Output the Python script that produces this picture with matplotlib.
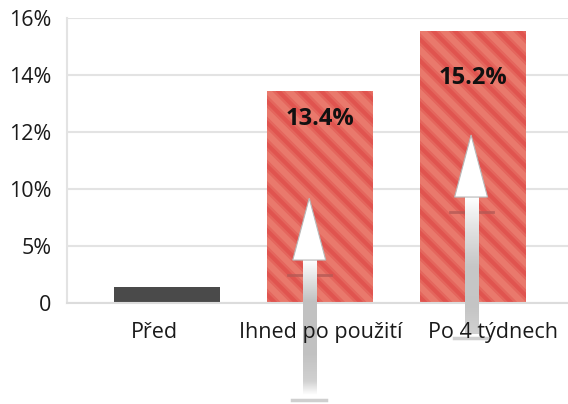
import numpy as np
import matplotlib
matplotlib.use('Agg')
import matplotlib.pyplot as plt
from matplotlib.patches import Polygon
from matplotlib.transforms import ScaledTranslation

plt.rcParams['font.family'] = ['Open Sans', 'DejaVu Sans']

categories = ['Před', 'Ihned po použití', 'Po 4 týdnech']
values = [1.4, 13.45, 15.55]
value_labels = ['', '13.4%', '15.2%']
tick_values = [0, 5, 10, 12, 14, 16]
tick_labels = ['0', '5%', '10%', '12%', '14%', '16%']

# the axis is not linear: every tick gets the same spacing
tick_index = np.arange(len(tick_values))


def fwd(v):
    return np.interp(v, tick_values, tick_index)


def inv(t):
    return np.interp(t, tick_index, tick_values)


fig = plt.figure(figsize=(5.68, 4.04), dpi=100)
ax = fig.add_axes([0.118, 0.25, 0.882, 0.705])
ax.set_yscale('function', functions=(fwd, inv))

x = np.arange(len(categories))
bar_colors = ['#4a4a4a', '#e0544f', '#e0544f']
bars = ax.bar(x, values, width=0.69, color=bar_colors, linewidth=0, zorder=2)

# soft diagonal stripes, drawn in inches so the angle stays 45 degrees
for b in bars[1:]:
    for x0 in np.arange(-5, 7, 0.215):
        for lw, al in [(8, 0.35), (4.5, 0.55)]:
            ln, = ax.plot([x0, x0 + 5], [5, 0], color='#ee8a7a', lw=lw,
                          alpha=al, transform=fig.dpi_scale_trans,
                          zorder=2.5, solid_capstyle='butt')
            ln.set_clip_path(b)

ax.set_ylim(0, 16)
ax.set_xlim(-0.652, 2.62)
ax.set_yticks(tick_values)
ax.set_yticklabels(tick_labels)
ax.set_xticks(x)
ax.set_xticklabels(categories)
ax.tick_params(axis='both', length=0, labelsize=15.5, colors='#1a1a1a')
ax.tick_params(axis='x', pad=14)
ax.tick_params(axis='y', pad=11)
ax.grid(axis='y', color='#e3e3e3', linewidth=1.5, zorder=0)
ax.xaxis.set_zorder(6)
for s in ['top', 'right']:
    ax.spines[s].set_visible(False)
ax.spines['left'].set_color('#e3e3e3')
ax.spines['bottom'].set_color('#dcdcdc')
ax.spines['left'].set_linewidth(1.5)
ax.spines['bottom'].set_linewidth(1.5)

# nudge the category labels like in the original layout (pixels)
label_shift = [-12, 1, 20]
for lab, dx in zip(ax.get_xticklabels(), label_shift):
    lab.set_transform(lab.get_transform() +
                      ScaledTranslation(dx / 100, 0, fig.dpi_scale_trans))

offsets = [0, -20, -34]
for xi, v, lab, off in zip(x, values, value_labels, offsets):
    if lab:
        ax.annotate(lab, (xi, v), xytext=(0, off), textcoords='offset points',
                    ha='center', va='center', fontsize=17, fontweight='bold',
                    color='#111111', zorder=5)

# arrows drawn in the scaled (index) space of the y axis
tr = ax.transLimits + ax.transAxes
arrows = [
    dict(x=0.93, bottom=-1.61, base=0.754, tip=1.84, line=-1.70, mark=0.49,
         stops=[0.0, 0.1, 0.3, 0.7, 1.0],
         greys=[1.0, 0.82, 0.76, 0.76, 1.0]),
    dict(x=1.987, bottom=-0.54, base=1.86, tip=2.95, line=-0.61, mark=1.6,
         stops=[0.0, 0.2, 0.5, 0.8, 1.0],
         greys=[0.82, 0.77, 0.78, 0.9, 1.0]),
]
shaft_w = 0.085
head_w = 0.215
for a in arrows:
    ax.plot([a['x'] - 0.14, a['x'] + 0.14], [a['mark'], a['mark']],
            color='#b55a55', lw=2, transform=tr, zorder=3, alpha=0.8)
    n = 200
    g = np.interp(np.linspace(0, 1, n), a['stops'], a['greys'])
    img = np.dstack([g, g, g])[0][::-1]
    ax.imshow(img.reshape(n, 1, 3), aspect='auto', interpolation='bilinear',
              extent=(a['x'] - shaft_w / 2, a['x'] + shaft_w / 2,
                      a['bottom'], a['base']),
              transform=tr, zorder=4, clip_on=False)
    head = Polygon([(a['x'] - head_w / 2, a['base']),
                    (a['x'] + head_w / 2, a['base']),
                    (a['x'], a['tip'])], closed=True,
                   facecolor='white', edgecolor='#b8b8b8', lw=0.8,
                   transform=tr, zorder=4, clip_on=False)
    ax.add_patch(head)
    ax.plot([a['x'] - 0.11, a['x'] + 0.11], [a['line'], a['line']],
            color='#cfcfcf', lw=2.5, transform=tr, zorder=4, clip_on=False)

ax.set_ylim(0, 16)
ax.set_xlim(-0.652, 2.62)

fig.savefig('out.png', dpi=100)
